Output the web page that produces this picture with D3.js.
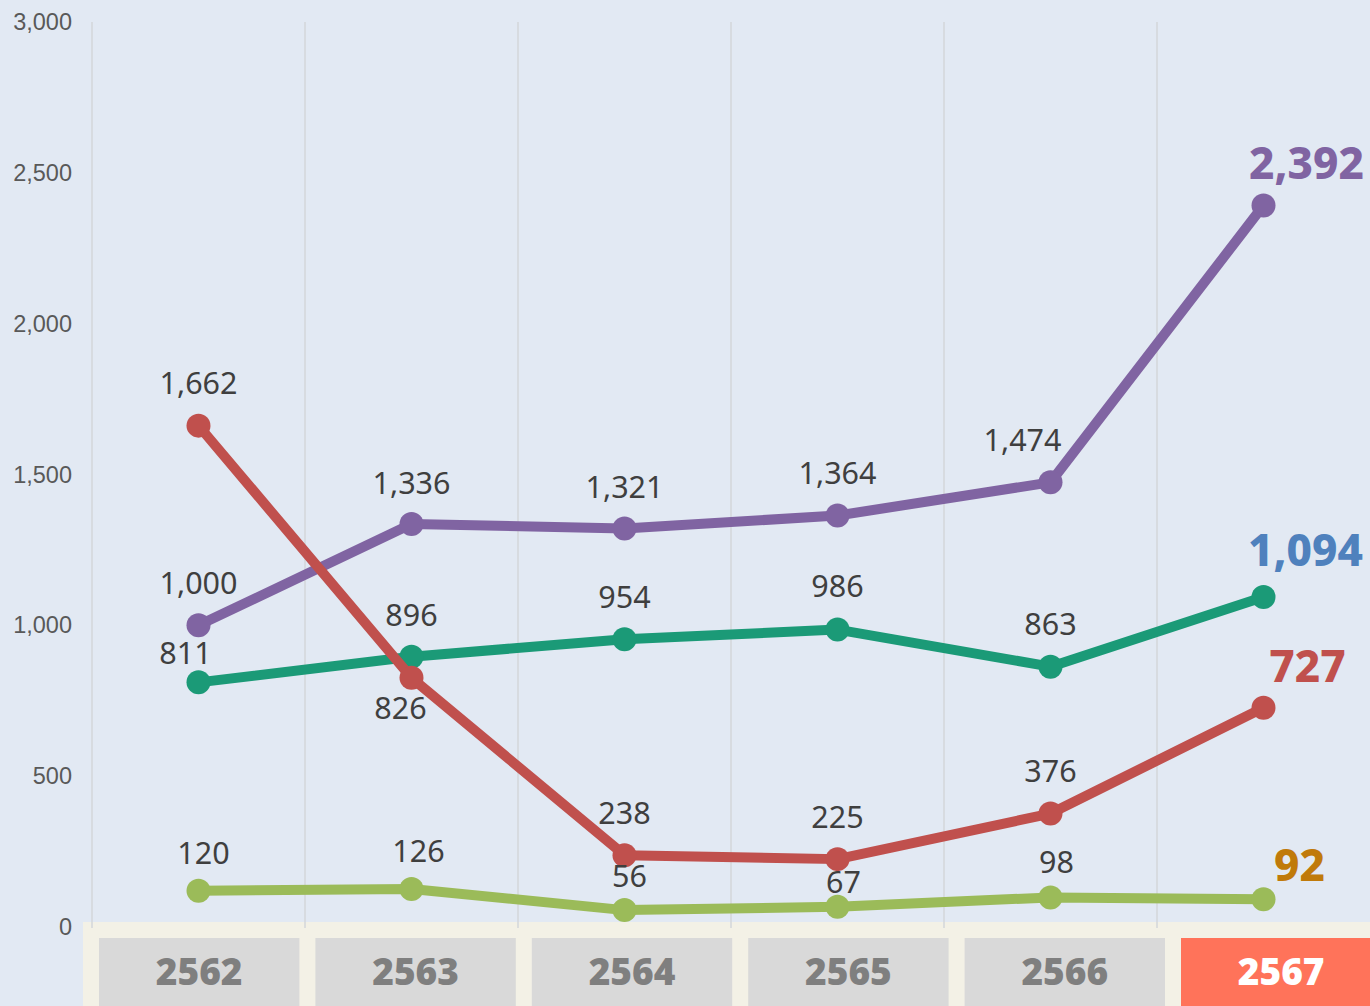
<!DOCTYPE html>
<meta charset="utf-8">
<title>Trend 2562-2567</title>
<style>
body { margin: 0; background: #e2e9f3; }
svg { display: block; background-color: #e2e9f3; }
.tick text { font-family: "Liberation Sans", Arial, sans-serif; }
</style>
<script src="https://d3js.org/d3.v7.min.js"></script>
<body>
<script>

var width = 1370, height = 1006;

// data
var years = ["2562", "2563", "2564", "2565", "2566", "2567"];
var purple = [1000, 1336, 1321, 1364, 1474, 2392];
var green = [811, 896, 954, 986, 863, 1094];
var red = [1662, 826, 238, 225, 376, 727];
var lime = [120, 126, 56, 67, 98, 92];
var yTicks = [0, 500, 1000, 1500, 2000, 2500, 3000];

// label nudges (dx, dy from the point), one per point
var purpleLbl = [[0, -42], [0, -41], [0, -41], [0, -42], [-28, -42], [43, -42]];
var greenLbl = [[-13, -29], [0, -41], [0, -42], [0, -43], [0, -42], [42, -46]];
var redLbl = [[0, -42], [-11, 31], [0, -42], [0, -42], [0, -42], [44, -41]];
var limeLbl = [[5, -37], [7, -38], [5, -34], [6, -24], [6, -35], [36, -34]];

var series = [
  { name: "lime", values: lime, color: "#9bbb59", last: "#c07a0a", lbl: limeLbl },
  { name: "green", values: green, color: "#1b9a77", last: "#4f81bd", lbl: greenLbl },
  { name: "purple", values: purple, color: "#8064a2", last: "#8064a2", lbl: purpleLbl },
  { name: "red", values: red, color: "#c0504d", last: "#c0504d", lbl: redLbl }
];

var svg = d3.select("body").append("svg")
    .attr("width", width)
    .attr("height", height);

var x = d3.scaleBand()
    .domain(years)
    .range([92, 1370]);

var y = d3.scaleLinear()
    .domain([0, 3000])
    .range([927, 22]);

// vertical grid lines
svg.append("g").selectAll("line")
    .data(years)
  .enter().append("line")
    .attr("x1", function(d) { return x(d); })
    .attr("x2", function(d) { return x(d); })
    .attr("y1", y(3000))
    .attr("y2", 927)
    .attr("stroke", "#d3d6da")
    .attr("stroke-width", 1.5);

// bottom strip with year boxes
svg.append("rect")
    .attr("x", 83).attr("y", 922)
    .attr("width", width - 83).attr("height", height - 922)
    .attr("fill", "#f3f1e6");

// bits of grid lines poking into the strip
svg.append("g").selectAll("line")
    .data(years)
  .enter().append("line")
    .attr("x1", function(d) { return x(d); })
    .attr("x2", function(d) { return x(d); })
    .attr("y1", 922)
    .attr("y2", 928)
    .attr("stroke", "#d3d6da")
    .attr("stroke-width", 1.5);

var boxX = d3.scaleBand()
    .domain(years)
    .range([91, 91 + 6 * 216.4])
    .paddingInner(16 / 216.4)
    .paddingOuter(8 / 216.4);

var boxes = svg.append("g").selectAll("g")
    .data(years)
  .enter().append("g");

boxes.append("rect")
    .attr("x", function(d) { return boxX(d); })
    .attr("y", 938)
    .attr("width", boxX.bandwidth())
    .attr("height", height - 938)
    .attr("fill", function(d, i) { return i == years.length - 1 ? "#ff735a" : "#d9d9d9"; });

boxes.append("text")
    .attr("x", function(d) { return boxX(d) + boxX.bandwidth() / 2; })
    .attr("y", 985)
    .attr("text-anchor", "middle")
    .style("font-family", "'Open Sans', 'Noto Sans', sans-serif")
    .style("font-weight", 800)
    .style("font-size", "37px")
    .attr("fill", function(d, i) { return i == years.length - 1 ? "#ffffff" : "#7f7f7f"; })
    .text(function(d) { return d; });

// y axis labels only
var yAxis = d3.axisLeft(y)
    .tickValues(yTicks)
    .tickSize(0)
    .tickPadding(0)
    .tickFormat(d3.format(","));

svg.append("g")
    .attr("transform", "translate(72,0)")
    .call(yAxis)
    .call(function(g) { g.select(".domain").remove(); })
    .selectAll("text")
    .style("font-size", "23.5px")
    .attr("fill", "#595959");

var cx = function(i) { return x(years[i]) + x.bandwidth() / 2; };

var line = d3.line()
    .x(function(d, i) { return cx(i); })
    .y(function(d) { return y(d); });

var layers = svg.append("g").selectAll("g")
    .data(series)
  .enter().append("g");

layers.append("path")
    .attr("d", function(s) { return line(s.values); })
    .attr("fill", "none")
    .attr("stroke", function(s) { return s.color; })
    .attr("stroke-width", 10)
    .attr("stroke-linejoin", "round");

layers.selectAll("circle")
    .data(function(s) { return s.values.map(function(v) { return { v: v, s: s }; }); })
  .enter().append("circle")
    .attr("cx", function(d, i) { return cx(i); })
    .attr("cy", function(d) { return y(d.v); })
    .attr("r", 12)
    .attr("fill", function(d) { return d.s.color; });

// value labels
var fmt = d3.format(",");
series.forEach(function(s) {
  svg.append("g").selectAll("text")
      .data(s.values)
    .enter().append("text")
      .attr("x", function(d, i) { return cx(i) + s.lbl[i][0]; })
      .attr("y", function(d, i) { return y(d) + s.lbl[i][1]; })
      .attr("dy", "0.35em")
      .attr("text-anchor", "middle")
      .style("font-family", "'Noto Sans', sans-serif")
      .style("font-size", function(d, i) { return i == years.length - 1 ? "44px" : "30.5px"; })
      .style("font-weight", function(d, i) { return i == years.length - 1 ? 800 : 400; })
      .attr("fill", function(d, i) { return i == years.length - 1 ? s.last : "#3f3f3f"; })
      .text(function(d) { return fmt(d); });
});

</script>
